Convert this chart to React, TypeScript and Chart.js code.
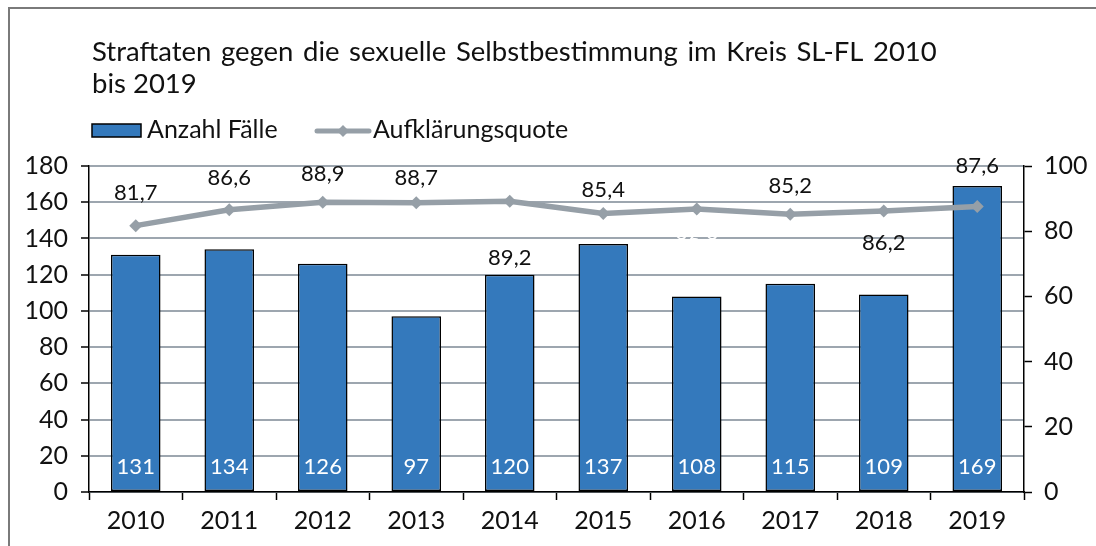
import React, { useEffect, useRef } from "react";
import { Chart, registerables } from "chart.js";

Chart.register(...registerables);

const years = ["2010", "2011", "2012", "2013", "2014", "2015", "2016", "2017", "2018", "2019"];
const cases = [131, 134, 126, 97, 120, 137, 108, 115, 109, 169];
const rate = [81.7, 86.6, 88.9, 88.7, 89.2, 85.4, 86.8, 85.2, 86.2, 87.6];
const leftTicks = [0, 20, 40, 60, 80, 100, 120, 140, 160, 180];
const rightTicks = [0, 20, 40, 60, 80, 100];

const titleLines = ["Straftaten gegen die sexuelle Selbstbestimmung im Kreis SL-FL 2010", "bis 2019"];
const barLabel = "Anzahl Fälle";
const lineLabel = "Aufklärungsquote";

// label layout (style, not data)
const rateLabelDy = [-33, -32, -28, -25, 57, -24, 31, -28, 32, -41];
const rateLabelColor = ["#111", "#111", "#111", "#111", "#111", "#111", "#ffffff", "#111", "#111", "#111"];

const FONT = "Lato, 'Open Sans', sans-serif";
const BAR_COLOR = "#3479BC";
const LINE_COLOR = "#969FA7";

const fmt = (v: number) => v.toFixed(1).replace(".", ",");

const decorPlugin = {
  id: "decor",
  beforeDraw(chart: any) {
    const ctx = chart.ctx;
    ctx.save();
    ctx.fillStyle = "#fff";
    ctx.fillRect(0, 0, chart.width, chart.height);
    ctx.strokeStyle = "#7a7a7a";
    ctx.lineWidth = 2;
    ctx.beginPath();
    ctx.moveTo(9, chart.height);
    ctx.lineTo(9, 8);
    ctx.lineTo(chart.width, 8);
    ctx.stroke();
    // title
    ctx.fillStyle = "#111";
    ctx.font = `27.5px ${FONT}`;
    ctx.textBaseline = "alphabetic";
    ctx.textAlign = "left";
    try { (ctx as any).wordSpacing = "2.5px"; } catch (e) {}
    ctx.fillText(titleLines[0], 92, 61);
    try { (ctx as any).wordSpacing = "0px"; } catch (e) {}
    ctx.fillText(titleLines[1], 92, 93);
    // legend
    ctx.textBaseline = "middle";
    ctx.font = `25px ${FONT}`;
    ctx.fillStyle = BAR_COLOR;
    ctx.fillRect(92, 124, 49, 13);
    ctx.strokeStyle = "#000";
    ctx.lineWidth = 1.5;
    ctx.strokeRect(92, 124, 49, 13);
    ctx.fillStyle = "#111";
    ctx.fillText(barLabel, 147, 130);
    ctx.strokeStyle = LINE_COLOR;
    ctx.lineWidth = 5;
    ctx.lineCap = "round";
    ctx.beginPath();
    ctx.moveTo(317, 131);
    ctx.lineTo(369, 131);
    ctx.stroke();
    ctx.fillStyle = LINE_COLOR;
    ctx.beginPath();
    ctx.moveTo(343, 125);
    ctx.lineTo(349, 131);
    ctx.lineTo(343, 137);
    ctx.lineTo(337, 131);
    ctx.closePath();
    ctx.fill();
    ctx.fillStyle = "#111";
    ctx.fillText(lineLabel, 373, 130);
    ctx.restore();
  },
  afterDatasetsDraw(chart: any) {
    const ctx = chart.ctx;
    ctx.save();
    ctx.textAlign = "center";
    ctx.textBaseline = "middle";
    const bars = chart.getDatasetMeta(0).data;
    const y0 = chart.scales.y.getPixelForValue(0);
    ctx.font = `22px ${FONT}`;
    ctx.fillStyle = "#ffffff";
    bars.forEach((b: any, i: number) => {
      ctx.fillText(String(cases[i]), b.x, y0 - 25);
    });
    const pts = chart.getDatasetMeta(1).data;
    ctx.font = `22px ${FONT}`;
    pts.forEach((p: any, i: number) => {
      ctx.fillStyle = rateLabelColor[i];
      ctx.fillText(fmt(rate[i]), p.x, p.y + rateLabelDy[i]);
    });
    ctx.restore();
  },
};

export default function App() {
  const ref = useRef<HTMLCanvasElement | null>(null);
  useEffect(() => {
    if (!ref.current) return;
    const tickFont = { family: FONT, size: 25 };
    const chart = new Chart(ref.current, {
      type: "bar",
      data: {
        labels: years,
        datasets: [
          {
            type: "bar",
            label: barLabel,
            data: cases,
            backgroundColor: BAR_COLOR,
            borderColor: "#000",
            borderWidth: 1.5,
            borderSkipped: false,
            categoryPercentage: 1,
            barPercentage: 0.53,
            yAxisID: "y",
            order: 2,
          } as any,
          {
            type: "line",
            label: lineLabel,
            data: rate,
            borderColor: LINE_COLOR,
            backgroundColor: LINE_COLOR,
            borderWidth: 5.5,
            pointStyle: "rectRot",
            pointRadius: 6.5,
            pointBackgroundColor: LINE_COLOR,
            pointBorderColor: LINE_COLOR,
            pointBorderWidth: 0,
            tension: 0,
            yAxisID: "y1",
            order: 1,
          } as any,
        ],
      },
      options: {
        responsive: false,
        animation: false,
        layout: { padding: { left: 8, right: 0, top: 166, bottom: 0 } },
        plugins: {
          legend: { display: false },
          title: { display: false },
          tooltip: { enabled: false },
        },
        scales: {
          x: {
            offset: true,
            grid: {
              offset: true,
              drawOnChartArea: false,
              drawTicks: true,
              tickLength: 8,
              tickColor: "#000",
              tickWidth: 1.5,
            },
            border: { color: "#000", width: 1.5 },
            ticks: { color: "#111", font: tickFont, padding: 6 },
            afterFit: (s: any) => { s.height = 54; },
          },
          y: {
            position: "left",
            min: 0,
            max: 180,
            afterBuildTicks: (s: any) => { s.ticks = leftTicks.map((v) => ({ value: v })); },
            grid: {
              color: "#9DA6AF",
              lineWidth: 2,
              drawTicks: true,
              tickLength: 8,
              tickColor: "#000",
              tickWidth: 1.5,
            },
            border: { color: "#000", width: 1.5 },
            ticks: { color: "#111", font: tickFont, padding: 13 },
            afterFit: (s: any) => { s.width = 81; },
          },
          y1: {
            position: "right",
            min: 0,
            max: 100,
            afterBuildTicks: (s: any) => { s.ticks = rightTicks.map((v) => ({ value: v })); },
            grid: {
              drawOnChartArea: false,
              drawTicks: true,
              tickLength: 8,
              tickColor: "#000",
              tickWidth: 1.5,
            },
            border: { color: "#000", width: 1.5 },
            ticks: { color: "#111", font: tickFont, padding: 12 },
            afterFit: (s: any) => { s.width = 72; },
          },
        },
      } as any,
      plugins: [decorPlugin],
    });
    return () => chart.destroy();
  }, []);
  return (
    <div style={{ position: "fixed", left: 0, top: 0, width: 1096, height: 546, background: "#fff" }}>
      <canvas ref={ref} width={1096} height={546} style={{ display: "block" }} />
    </div>
  );
}
